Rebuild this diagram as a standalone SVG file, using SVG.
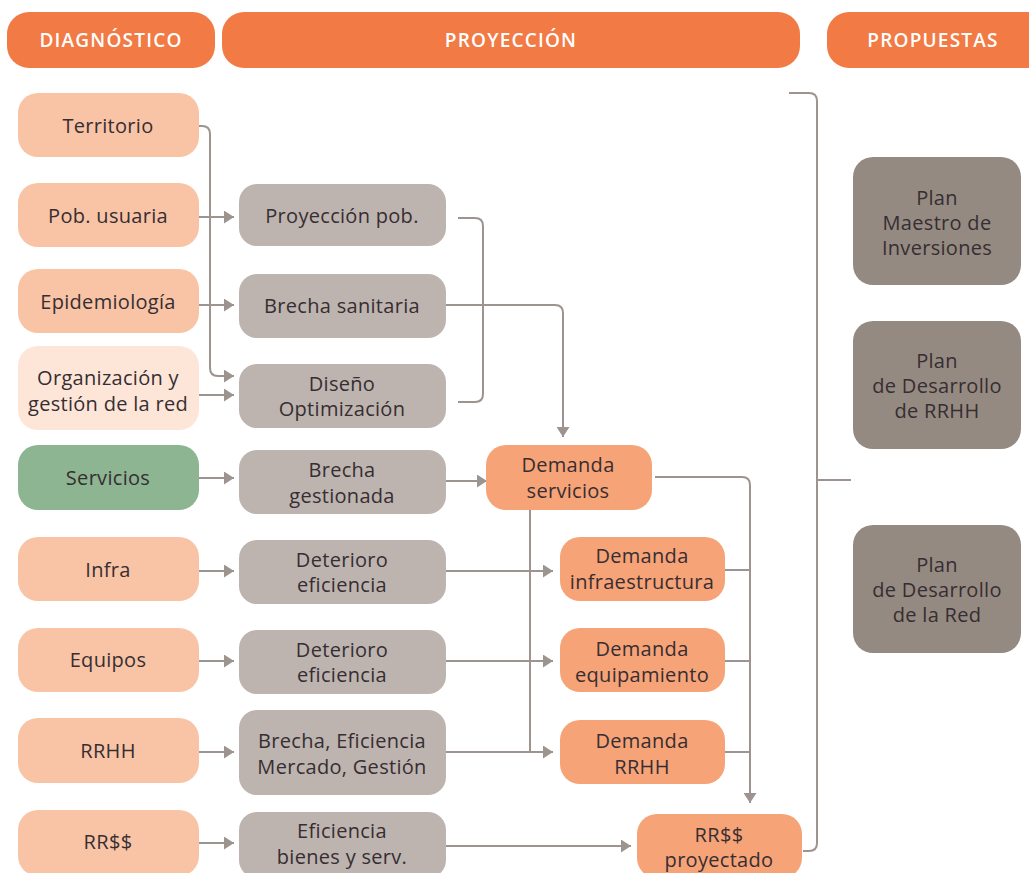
<svg xmlns="http://www.w3.org/2000/svg" width="1029" height="873" viewBox="0 0 1029 873">
  <defs>
    <style>
      .hdr { fill: #f27a45; }
      .hdr-t { font-family: "Open Sans", "Liberation Sans", sans-serif; font-size: 19px; font-weight: 600; letter-spacing: 1.2px; fill: #ffffff; text-anchor: middle; }
      .t { font-family: "Open Sans", "Liberation Sans", sans-serif; font-size: 20px; letter-spacing: 0.3px; fill: #362e32; text-anchor: middle; }
      .src { fill: #f9c4a6; }
      .org { fill: #fde6d8; }
      .svc { fill: #8db592; }
      .proc { fill: #bdb4af; }
      .dem { fill: #f6a378; }
      .plan { fill: #958a81; }
      .conn path { fill: none; stroke: #9d948f; stroke-width: 2; }
      .conn path.arr { marker-end: url(#arrow); }
    </style>
    <marker id="arrow" markerUnits="userSpaceOnUse" markerWidth="11" markerHeight="13" refX="10" refY="6.5" orient="auto">
      <path d="M0,0 L10,6.5 L0,13 Z" fill="#9d948f"/>
    </marker>
  </defs>

  <rect width="1029" height="873" fill="#ffffff"/>

  <!-- column headers -->
  <g id="hdr-diagnostico">
    <rect class="hdr" x="7" y="12" width="208" height="56" rx="22"/>
    <text class="hdr-t" x="111" y="47">DIAGNÓSTICO</text>
  </g>
  <g id="hdr-proyeccion">
    <rect class="hdr" x="222" y="12" width="578" height="56" rx="22"/>
    <text class="hdr-t" x="511" y="47">PROYECCIÓN</text>
  </g>
  <g id="hdr-propuestas">
    <rect class="hdr" x="827" y="12" width="230" height="56" rx="22"/>
    <text class="hdr-t" x="933" y="47">PROPUESTAS</text>
  </g>

  <!-- connectors -->
  <g id="connectors" class="conn">
    <path class="arr" d="M195,126 H202 Q210,126 210,134 V368 Q210,376 218,376 H234"/>
    <path class="arr" d="M194,395 H234"/>
    <path class="arr" d="M194,217 H234"/>
    <path class="arr" d="M194,305 H234"/>
    <path d="M458,218 H475 Q483,218 483,226 V394 Q483,402 475,402 H458"/>
    <path class="arr" d="M446,305 H555 Q563,305 563,313 V437"/>
    <path class="arr" d="M196,478 H234"/>
    <path class="arr" d="M446,481 H487"/>
    <path class="arr" d="M194,571 H234"/>
    <path class="arr" d="M440,571 H553"/>
    <path class="arr" d="M194,661 H234"/>
    <path class="arr" d="M440,661 H553"/>
    <path class="arr" d="M194,752 H234"/>
    <path class="arr" d="M440,752 H553"/>
    <path d="M530,505 V752"/>
    <path class="arr" d="M194,843 H234"/>
    <path class="arr" d="M434,846 H631"/>
    <path class="arr" d="M655,477 H742 Q750,477 750,485 V803"/>
    <path d="M725,570 H750"/>
    <path d="M725,661 H750"/>
    <path d="M725,752 H750"/>
    <path d="M803,851 H809 Q817,851 817,843 V101 Q817,93 809,93 H789"/>
    <path d="M817,480 H851"/>
  </g>

  <!-- diagnóstico -->
  <g id="n-territorio">
    <rect class="src" x="18" y="93" width="181" height="64" rx="20"/>
    <text class="t" x="108" y="133">Territorio</text>
  </g>
  <g id="n-pob-usuaria">
    <rect class="src" x="18" y="183" width="181" height="64" rx="20"/>
    <text class="t" x="108" y="223">Pob. usuaria</text>
  </g>
  <g id="n-epidemiologia">
    <rect class="src" x="18" y="269" width="181" height="64" rx="20"/>
    <text class="t" x="108" y="309">Epidemiología</text>
  </g>
  <g id="n-organizacion">
    <rect class="org" x="18" y="346" width="181" height="84" rx="20"/>
    <text class="t" x="108" y="385">Organización y</text>
    <text class="t" x="108" y="411">gestión de la red</text>
  </g>
  <g id="n-servicios">
    <rect class="svc" x="18" y="445" width="181" height="65" rx="20"/>
    <text class="t" x="108" y="485">Servicios</text>
  </g>
  <g id="n-infra">
    <rect class="src" x="18" y="537" width="181" height="64" rx="20"/>
    <text class="t" x="108" y="577">Infra</text>
  </g>
  <g id="n-equipos">
    <rect class="src" x="18" y="628" width="181" height="64" rx="20"/>
    <text class="t" x="108" y="667">Equipos</text>
  </g>
  <g id="n-rrhh">
    <rect class="src" x="18" y="718" width="181" height="65" rx="20"/>
    <text class="t" x="108" y="758">RRHH</text>
  </g>
  <g id="n-rrss">
    <rect class="src" x="18" y="810" width="181" height="66" rx="20"/>
    <text class="t" x="108" y="849">RR$$</text>
  </g>

  <!-- proyección: procesos -->
  <g id="n-proyeccion-pob">
    <rect class="proc" x="239" y="184" width="207" height="62" rx="18"/>
    <text class="t" x="342" y="223">Proyección pob.</text>
  </g>
  <g id="n-brecha-sanitaria">
    <rect class="proc" x="239" y="274" width="207" height="64" rx="18"/>
    <text class="t" x="342" y="313">Brecha sanitaria</text>
  </g>
  <g id="n-diseno">
    <rect class="proc" x="239" y="364" width="207" height="64" rx="18"/>
    <text class="t" x="342" y="391">Diseño</text>
    <text class="t" x="342" y="416">Optimización</text>
  </g>
  <g id="n-brecha-gestionada">
    <rect class="proc" x="239" y="450" width="207" height="64" rx="18"/>
    <text class="t" x="342" y="477">Brecha</text>
    <text class="t" x="342" y="503">gestionada</text>
  </g>
  <g id="n-deterioro-infra">
    <rect class="proc" x="239" y="540" width="207" height="64" rx="18"/>
    <text class="t" x="342" y="567">Deterioro</text>
    <text class="t" x="342" y="592">eficiencia</text>
  </g>
  <g id="n-deterioro-equipos">
    <rect class="proc" x="239" y="630" width="207" height="64" rx="18"/>
    <text class="t" x="342" y="657">Deterioro</text>
    <text class="t" x="342" y="682">eficiencia</text>
  </g>
  <g id="n-brecha-eficiencia">
    <rect class="proc" x="239" y="710" width="207" height="85" rx="18"/>
    <text class="t" x="342" y="748">Brecha, Eficiencia</text>
    <text class="t" x="342" y="774">Mercado, Gestión</text>
  </g>
  <g id="n-eficiencia-bienes">
    <rect class="proc" x="239" y="812" width="207" height="66" rx="18"/>
    <text class="t" x="342" y="838">Eficiencia</text>
    <text class="t" x="342" y="864">bienes y serv.</text>
  </g>

  <!-- proyección: demandas -->
  <g id="n-demanda-servicios">
    <rect class="dem" x="486" y="445" width="166" height="65" rx="20"/>
    <text class="t" x="568" y="472">Demanda</text>
    <text class="t" x="568" y="498">servicios</text>
  </g>
  <g id="n-demanda-infra">
    <rect class="dem" x="560" y="537" width="165" height="64" rx="20"/>
    <text class="t" x="642" y="563">Demanda</text>
    <text class="t" x="642" y="589">infraestructura</text>
  </g>
  <g id="n-demanda-equip">
    <rect class="dem" x="560" y="628" width="165" height="64" rx="20"/>
    <text class="t" x="642" y="656">Demanda</text>
    <text class="t" x="642" y="682">equipamiento</text>
  </g>
  <g id="n-demanda-rrhh">
    <rect class="dem" x="560" y="720" width="165" height="64" rx="20"/>
    <text class="t" x="642" y="748">Demanda</text>
    <text class="t" x="642" y="774">RRHH</text>
  </g>
  <g id="n-rrss-proyectado">
    <rect class="dem" x="637" y="814" width="165" height="64" rx="20"/>
    <text class="t" x="719" y="842">RR$$</text>
    <text class="t" x="719" y="867">proyectado</text>
  </g>

  <!-- propuestas -->
  <g id="n-plan-inversiones">
    <rect class="plan" x="853" y="157" width="168" height="128" rx="20"/>
    <text class="t" x="937" y="205">Plan</text>
    <text class="t" x="937" y="230">Maestro de</text>
    <text class="t" x="937" y="255">Inversiones</text>
  </g>
  <g id="n-plan-rrhh">
    <rect class="plan" x="853" y="321" width="168" height="128" rx="20"/>
    <text class="t" x="937" y="368">Plan</text>
    <text class="t" x="937" y="393">de Desarrollo</text>
    <text class="t" x="937" y="418">de RRHH</text>
  </g>
  <g id="n-plan-red">
    <rect class="plan" x="853" y="525" width="168" height="128" rx="20"/>
    <text class="t" x="937" y="572">Plan</text>
    <text class="t" x="937" y="597">de Desarrollo</text>
    <text class="t" x="937" y="622">de la Red</text>
  </g>
</svg>
